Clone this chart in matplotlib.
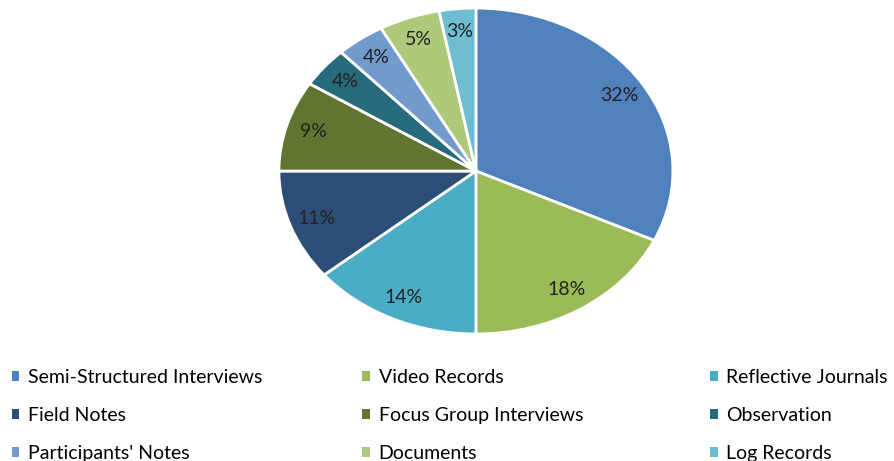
import matplotlib
matplotlib.use("Agg")
import matplotlib.pyplot as plt

plt.rcParams["font.family"] = ["Lato", "DejaVu Sans"]

categories = [
    "Semi-Structured Interviews", "Video Records", "Reflective Journals",
    "Field Notes", "Focus Group Interviews", "Observation",
    "Participants' Notes", "Documents", "Log Records",
]
shares = [32, 18, 14, 11, 9, 4, 4, 5, 3]
colors = ["#4F81BD", "#9BBB59", "#4BACC6", "#2C4D75", "#5F7530",
          "#276A7C", "#729ACA", "#AFC97A", "#6FBDD1"]

fig = plt.figure(figsize=(8.94, 4.61), dpi=100)
ax = fig.add_axes([0.312, 0.2755, 0.4407, 0.707])

wedges, _, autotexts = ax.pie(
    shares, colors=colors, startangle=90, counterclock=False,
    autopct=lambda p: f"{p:.0f}%", pctdistance=0.86,
    wedgeprops=dict(edgecolor="white", linewidth=2),
    textprops=dict(fontsize=14, color="#222222"),
)
ax.set_aspect("auto")
ax.set_xlim(-1.0, 1.0)
ax.set_ylim(-1.0, 1.0)

# legend laid out row-wise in three columns
col_x = [0.013, 0.405, 0.794]
for c, x in enumerate(col_x):
    idx = [c, c + 3, c + 6]
    leg = fig.legend([wedges[i] for i in idx], [categories[i] for i in idx],
                     loc="upper left", bbox_to_anchor=(x, 0.2),
                     frameon=False, fontsize=14, handlelength=0.4,
                     handleheight=0.4, handletextpad=0.45, labelspacing=1.08,
                     borderaxespad=0, borderpad=0)
    for h in leg.legend_handles:
        h.set_edgecolor("none")

fig.savefig("out.png", dpi=100, facecolor="white")
